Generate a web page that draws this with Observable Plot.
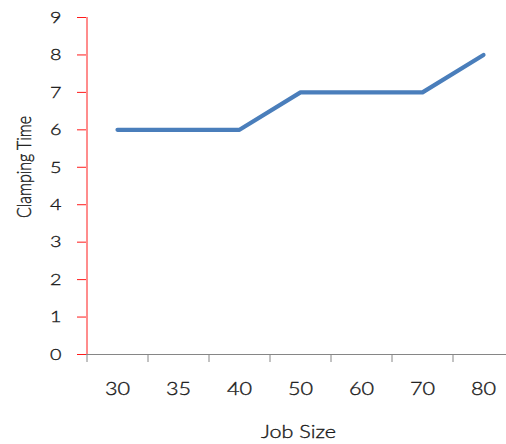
<!DOCTYPE html>
<html>
<head>
<meta charset="utf-8">
<script src="https://cdn.jsdelivr.net/npm/d3@7"></script>
<script src="https://cdn.jsdelivr.net/npm/@observablehq/plot@0.6"></script>
<style>
  html, body { margin: 0; padding: 0; background: #fff; }
</style>
</head>
<body>
<div id="chart"></div>
<script>
// Clamping time by job size
const jobSizes = ["30", "35", "40", "50", "60", "70", "80"];
const clampingTimes = [6, 6, 6, 7, 7, 7, 8];
const yTicks = [0, 1, 2, 3, 4, 5, 6, 7, 8, 9];

const rows = jobSizes.map((job, i) => ({job, time: clampingTimes[i]}));

const width = 506, height = 444;
const left = 86, step = 61;
const textColor = "#1a1a1a";
const font = "Lato";
const weight = 300;
const widen = 1.2; // wide letterforms

const chart = Plot.plot({
  width, height,
  marginLeft: left, marginRight: 0, marginTop: 17, marginBottom: 90,
  style: {background: "#fff", color: textColor},
  x: {type: "point", domain: jobSizes, range: [left, left + step * jobSizes.length], padding: 0.5, axis: null},
  y: {domain: [0, 9], axis: null},
  marks: [
    // category axis: gray baseline with ticks between categories
    Plot.ruleY([0], {stroke: "#868686", strokeWidth: 1}),
    Plot.axisX({tickSize: 8, tickFormat: () => "", dx: -step / 2, stroke: "#868686", label: null}),
    Plot.text(jobSizes, {x: d => d, frameAnchor: "bottom", lineAnchor: "middle", dy: 35, fontSize: 18, fontWeight: weight, fontFamily: font, fill: textColor, stroke: textColor, strokeWidth: 0.35}),
    Plot.text(["Job Size"], {frameAnchor: "bottom", lineAnchor: "middle", dy: 78, dx: 2, fontSize: 18, fontWeight: weight, fontFamily: font, fill: textColor, stroke: textColor, strokeWidth: 0.35}),
    // value axis in red
    Plot.ruleX([jobSizes[0]], {dx: -step / 2, y1: 0, y2: 9, stroke: "#ff1a1a"}),
    Plot.axisY({ticks: yTicks, tickSize: 9, tickPadding: 16, stroke: "#ff1a1a", fill: textColor, fontSize: 16.5, fontWeight: weight, fontFamily: font, label: null}),
    Plot.text(["Clamping Time"], {frameAnchor: "left", textAnchor: "middle", lineAnchor: "middle", dx: -62, dy: -19, rotate: -90, fontSize: 16, fontWeight: weight, fontFamily: font, fill: textColor, stroke: textColor, strokeWidth: 0.35}),
    // series
    Plot.line(rows, {x: "job", y: "time", stroke: "#4a7ebb", strokeWidth: 4.2, strokeLinecap: "round", strokeLinejoin: "round"})
  ]
});

// widen every label around its own anchor point
d3.select(chart).selectAll("text").each(function() {
  const t = this.getAttribute("transform");
  if (t && t.includes("rotate")) {
    this.setAttribute("transform", `${t} scale(1,${widen})`);
  } else {
    const x = +this.getAttribute("x") || 0;
    const y = +this.getAttribute("y") || 0;
    this.setAttribute("transform", `${t || ""} translate(${x},${y}) scale(${widen},1) translate(${-x},${-y})`);
  }
});

// y tick labels get the same light outline as the other labels
d3.select(chart).selectAll("g[aria-label='y-axis tick label'] text")
  .attr("stroke", textColor).attr("stroke-width", 0.35);

document.getElementById("chart").append(chart);
</script>
</body>
</html>
